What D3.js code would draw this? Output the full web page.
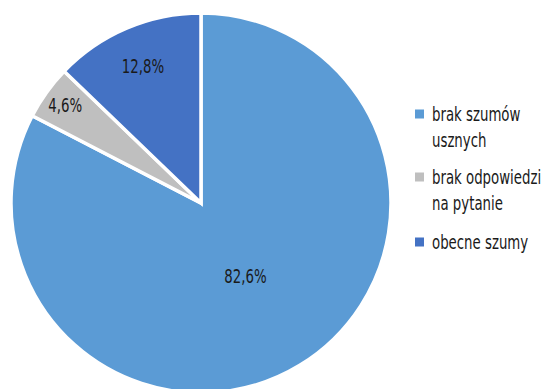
<!DOCTYPE html>
<html>
<head>
<meta charset="utf-8">
<script src="https://cdn.jsdelivr.net/npm/d3@7"></script>
<style>
  body { margin: 0; background: #fff; }
  svg text { font-family: "DejaVu Sans Condensed", "Liberation Sans Narrow", sans-serif; }
</style>
</head>
<body>
<div id="wrapper"></div>
<script>
const categories = ["brak szumów usznych", "brak odpowiedzi na pytanie", "obecne szumy"];
const legendLines = [["brak szumów", "usznych"], ["brak odpowiedzi", "na pytanie"], ["obecne szumy"]];
const values = [82.6, 4.6, 12.8];
const valueLabels = ["82,6%", "4,6%", "12,8%"];
const colors = ["#5B9BD5", "#BFBFBF", "#4472C4"];

function buildChart() {
    const dimension = { width: 541, height: 389 };
    const center = { x: 201, y: 203 };
    const radius = 190;
    const squeeze = 0.78; // narrow the font horizontally

    const svg = d3.select("#wrapper").append("svg")
        .attr("width", dimension.width)
        .attr("height", dimension.height);

    const data = categories.map((c, i) => ({ name: c, value: values[i], label: valueLabels[i], color: colors[i] }));

    const pie = d3.pie().value(d => d.value).sort(null);
    const arcs = pie(data);
    const arc = d3.arc().innerRadius(0).outerRadius(radius);

    const bounded = svg.append("g")
        .attr("transform", `translate(${center.x},${center.y})`);

    bounded.selectAll("path")
        .data(arcs)
        .join("path")
        .attr("d", arc)
        .attr("fill", d => d.data.color)
        .attr("stroke", "#fff")
        .attr("stroke-width", 3.5)
        .attr("stroke-linejoin", "miter");

    // label distance from center (fraction of radius), like Excel "best fit"
    const labelFrac = [0.45, 0.88, 0.78];
    bounded.selectAll("g.lbl")
        .data(arcs)
        .join("g")
        .attr("class", "lbl")
        .attr("transform", (d, i) => {
            const r = radius * labelFrac[i];
            const c = d3.arc().innerRadius(r).outerRadius(r).centroid(d);
            return `translate(${c[0]},${c[1]}) scale(${squeeze},1)`;
        })
        .append("text")
        .attr("text-anchor", "middle")
        .attr("dy", "0.36em")
        .attr("font-size", 19)
        .attr("fill", "#1a1a1a")
        .text(d => d.data.label);

    // legend
    const legendYs = [114, 177, 242];
    const items = svg.append("g").selectAll("g")
        .data(data)
        .join("g")
        .attr("transform", (d, i) => `translate(415,${legendYs[i]})`);
    items.append("rect")
        .attr("x", 0).attr("y", -4.5)
        .attr("width", 9).attr("height", 9)
        .attr("fill", d => d.color);
    items.append("text")
        .attr("transform", `translate(17,0) scale(${squeeze},1)`)
        .attr("font-size", 19)
        .attr("fill", "#1a1a1a")
        .selectAll("tspan")
        .data((d, i) => legendLines[i])
        .join("tspan")
        .attr("x", 0)
        .attr("dy", (d, j) => j === 0 ? "0.36em" : 26)
        .text(d => d);
}

buildChart();
</script>
</body>
</html>
